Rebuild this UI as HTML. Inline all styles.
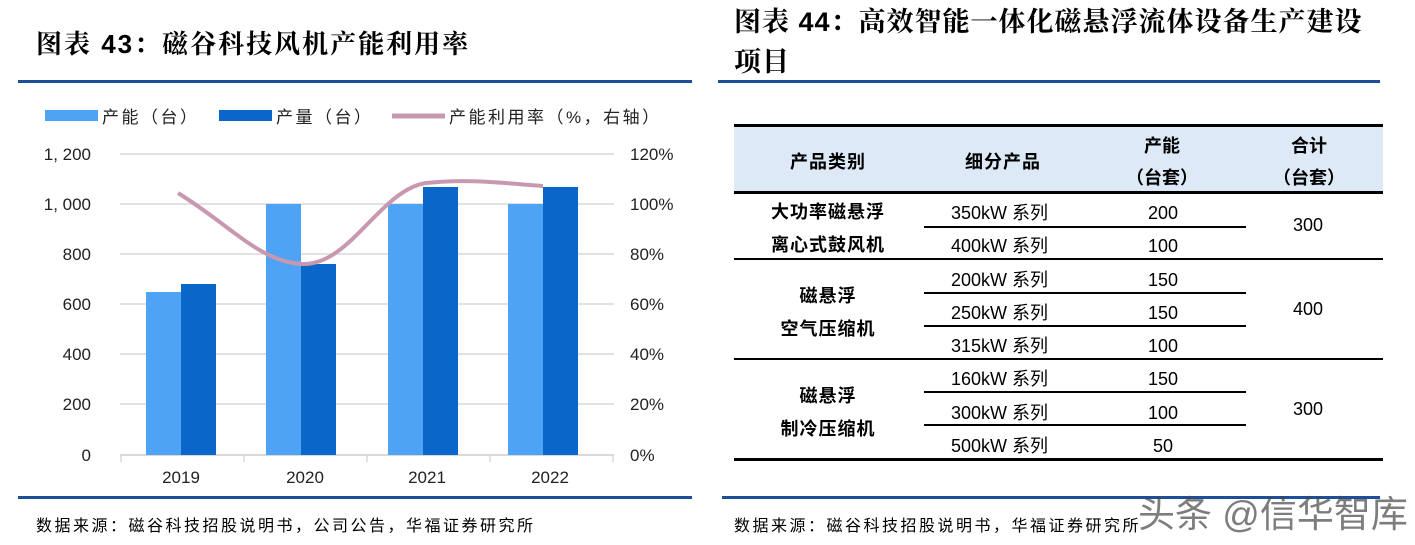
<!DOCTYPE html>
<html><head><meta charset="utf-8"><style>
body{margin:0;width:1415px;height:545px;background:#fff;overflow:hidden;position:relative;font-family:"Liberation Sans","Noto Sans CJK SC",sans-serif;color:#000}
.a{position:absolute;white-space:nowrap}
.t{font-weight:bold;font-family:"Liberation Sans","Noto Serif CJK SC",serif}
.rule{position:absolute;height:3px;background:#1f4e99}
.src{font-size:16px;letter-spacing:2.5px}
.tl{position:absolute;background:#000}
.c{position:absolute;text-align:center;font-size:18px;transform:translateX(-50%)}
</style></head><body>
<div class="a t" style="left:36px;top:24px;font-size:26px;letter-spacing:2px">图表 43：磁谷科技风机产能利用率</div>
<div class="rule" style="left:18px;top:80px;width:674px"></div>
<div class="rule" style="left:18px;top:496px;width:674px"></div>
<div class="a src" style="left:36px;top:512px">数据来源：磁谷科技招股说明书，公司公告，华福证券研究所</div>

<svg class="a" style="left:0;top:90px" width="700" height="410" viewBox="0 90 700 410">
<g font-size="17" font-family="Liberation Sans,Noto Sans CJK SC,sans-serif" fill="#222" letter-spacing="2.5">
<rect x="45" y="110" width="53" height="11" fill="#4ea3f5"/><text x="102" y="123">产能（台）</text>
<rect x="219" y="110" width="53" height="11" fill="#0a66c9"/><text x="276" y="123">产量（台）</text>
<line x1="392" y1="116" x2="445" y2="116" stroke="#c898b0" stroke-width="5"/><text x="449" y="123">产能利用率（%，右轴）</text>
</g>
<g stroke="#d9d9d9" stroke-width="1.5">
<line x1="120" y1="154" x2="614" y2="154"/><line x1="120" y1="204" x2="614" y2="204"/><line x1="120" y1="254" x2="614" y2="254"/><line x1="120" y1="304" x2="614" y2="304"/><line x1="120" y1="354" x2="614" y2="354"/><line x1="120" y1="404" x2="614" y2="404"/>
<line x1="120" y1="455" x2="614" y2="455" stroke-width="2"/>
<line x1="121" y1="455" x2="121" y2="462"/><line x1="244" y1="455" x2="244" y2="462"/><line x1="367" y1="455" x2="367" y2="462"/><line x1="490" y1="455" x2="490" y2="462"/><line x1="613" y1="455" x2="613" y2="462"/>
</g>
<g fill="#4ea3f5"><rect x="146" y="292" width="35" height="163"/><rect x="266" y="204" width="35" height="251"/><rect x="388" y="204" width="35" height="251"/><rect x="508" y="204" width="35" height="251"/></g>
<g fill="#0a66c9"><rect x="181" y="284" width="35" height="171"/><rect x="301" y="264" width="35" height="191"/><rect x="423" y="187" width="35" height="268"/><rect x="543" y="187" width="35" height="268"/></g>
<path d="M178,193 C230,225 260,262 302,264 C350,266 380,190 426,183 C470,178 510,184 543,186" fill="none" stroke="#c898b0" stroke-width="4"/>
<g font-size="17" fill="#222" text-anchor="end">
<text x="91" y="160">1, 200</text><text x="91" y="210">1, 000</text><text x="91" y="260">800</text><text x="91" y="310">600</text><text x="91" y="360">400</text><text x="91" y="410">200</text><text x="91" y="461">0</text></g>
<g font-size="17" fill="#222">
<text x="630" y="160">120%</text><text x="630" y="210">100%</text><text x="630" y="260">80%</text><text x="630" y="310">60%</text><text x="630" y="360">40%</text><text x="630" y="410">20%</text><text x="630" y="461">0%</text></g>
<g font-size="17" fill="#222" text-anchor="middle"><text x="181" y="483">2019</text><text x="305" y="483">2020</text><text x="427" y="483">2021</text><text x="550" y="483">2022</text></g>
</svg>

<div class="a t" style="left:734px;top:2px;line-height:40px;font-size:27px;letter-spacing:1px">图表 44：高效智能一体化磁悬浮流体设备生产建设<br>项目</div>
<div class="rule" style="left:718px;top:80px;width:662px"></div>
<div class="rule" style="left:722px;top:496px;width:658px"></div>
<div class="a src" style="left:734px;top:512px">数据来源：磁谷科技招股说明书，华福证券研究所</div>

<div class="a" style="left:734px;top:126px;width:649px;height:66px;background:#dde9f6"></div>
<div class="tl" style="left:734px;top:124px;width:649px;height:3px"></div>
<div class="tl" style="left:734px;top:191px;width:649px;height:3px"></div>
<div class="tl" style="left:734px;top:258px;width:649px;height:2px"></div>
<div class="tl" style="left:734px;top:358px;width:649px;height:2px"></div>
<div class="tl" style="left:734px;top:458px;width:649px;height:3px"></div>
<div class="tl" style="left:924px;top:226px;width:322px;height:1.5px"></div>
<div class="tl" style="left:924px;top:292px;width:322px;height:1.5px"></div>
<div class="tl" style="left:924px;top:325px;width:322px;height:1.5px"></div>
<div class="tl" style="left:924px;top:391px;width:322px;height:1.5px"></div>
<div class="tl" style="left:924px;top:424px;width:322px;height:1.5px"></div>

<div class="c" style="left:828px;top:148px;font-weight:bold;letter-spacing:1px">产品类别</div>
<div class="c" style="left:1003px;top:148px;font-weight:bold;letter-spacing:1px">细分产品</div>
<div class="c" style="left:1162px;top:130px;font-weight:bold;line-height:32px">产能<br>（台套）</div>
<div class="c" style="left:1309px;top:130px;font-weight:bold;line-height:32px">合计<br>（台套）</div>

<div class="c" style="left:828px;top:196px;font-weight:bold;line-height:33px;letter-spacing:1px">大功率磁悬浮<br>离心式鼓风机</div>
<div class="c" style="left:828px;top:280px;font-weight:bold;line-height:33px;letter-spacing:1px">磁悬浮<br>空气压缩机</div>
<div class="c" style="left:828px;top:380px;font-weight:bold;line-height:33px;letter-spacing:1px">磁悬浮<br>制冷压缩机</div>

<div class="a" style="left:951px;top:197px;font-size:18px;line-height:33.3px">350kW 系列<br>400kW 系列<br>200kW 系列<br>250kW 系列<br>315kW 系列<br>160kW 系列<br>300kW 系列<br>500kW 系列</div>
<div class="c" style="left:1163px;top:197px;line-height:33.3px">200<br>100<br>150<br>150<br>100<br>150<br>100<br>50</div>
<div class="c" style="left:1308px;top:215px">300</div>
<div class="c" style="left:1308px;top:299px">400</div>
<div class="c" style="left:1308px;top:399px">300</div>

<div class="a" style="left:1138px;top:484px;font-size:37px;color:rgba(70,70,70,0.7)">头条 @信华智库</div>
</body></html>
